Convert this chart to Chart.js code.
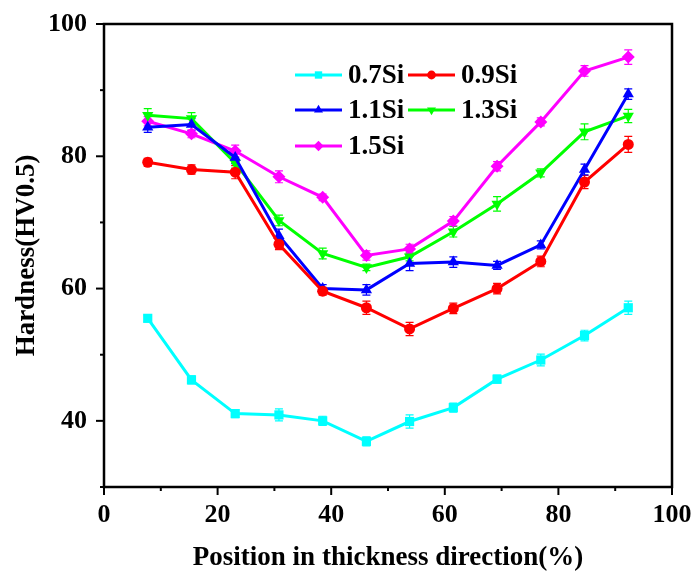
<!DOCTYPE html>
<html>
<head>
<meta charset="utf-8">
<script src="https://cdn.jsdelivr.net/npm/chart.js@4"></script>
<style>
  html, body { margin: 0; padding: 0; background: #fff; }
  #wrap { width: 694px; height: 574px; }
</style>
</head>
<body>
<div id="wrap"><canvas id="hardChart"></canvas></div>
<script>
const positions = [7.7, 15.4, 23.1, 30.8, 38.5, 46.2, 53.8, 61.5, 69.2, 76.9, 84.6, 92.3];

const si07 = [55.5, 46.2, 41.1, 40.9, 40.0, 36.9, 39.9, 42.0, 46.3, 49.2, 52.9, 57.1];
const si09 = [79.1, 78.0, 77.6, 66.7, 59.6, 57.1, 53.9, 57.0, 60.0, 64.1, 76.1, 81.8];
const si11 = [84.4, 84.8, 79.8, 68.0, 60.0, 59.8, 63.8, 64.0, 63.5, 66.6, 78.0, 89.4];
const si13 = [86.2, 85.7, 79.0, 70.3, 65.3, 63.2, 64.8, 68.6, 72.8, 77.5, 83.7, 86.1];
const si15 = [85.3, 83.4, 80.8, 76.9, 73.8, 65.0, 66.0, 70.2, 78.5, 85.2, 92.9, 95.0];

const err07 = [0.5, 0.6, 0.6, 0.9, 0.7, 0.7, 1.0, 0.7, 0.6, 0.9, 0.8, 1.0];
const err09 = [0.6, 0.7, 1.0, 0.8, 0.6, 1.0, 1.0, 0.8, 0.8, 0.8, 1.0, 1.2];
const err11 = [0.8, 0.9, 0.9, 1.0, 0.6, 0.8, 1.1, 0.8, 0.6, 0.6, 0.8, 0.8];
const err13 = [1.0, 0.9, 0.8, 0.8, 0.8, 0.5, 0.6, 0.8, 1.1, 0.6, 1.2, 1.0];
const err15 = [0.7, 0.6, 0.9, 0.9, 0.5, 0.7, 0.7, 0.7, 0.7, 0.6, 0.8, 1.1];

const seriesLabels = ['0.7Si', '0.9Si', '1.1Si', '1.3Si', '1.5Si'];
const xTicks = [0, 20, 40, 60, 80, 100];
const yTicks = [40, 60, 80, 100];

const FONT = '"Liberation Serif", "Times New Roman", serif';

function pts(vals) {
  return vals.map((v, i) => ({ x: positions[i], y: v }));
}

function series(label, vals, errs, color, style, radius, rot) {
  return {
    label: label,
    data: pts(vals),
    errors: errs,
    borderColor: color,
    backgroundColor: color,
    borderWidth: 3,
    pointStyle: style,
    pointRadius: radius,
    pointRotation: rot || 0,
    pointBorderWidth: 0,
    pointHoverRadius: radius,
    tension: 0,
    clip: false
  };
}

// error bars, frame, ticks and in-plot legend
const extras = {
  id: 'extras',
  beforeDatasetsDraw(chart) {
    const ctx = chart.ctx;
    const xs = chart.scales.x, ys = chart.scales.y;
    ctx.save();
    chart.data.datasets.forEach(ds => {
      ctx.strokeStyle = ds.borderColor;
      ctx.lineWidth = 1.2;
      ds.data.forEach((p, i) => {
        const e = ds.errors[i];
        const px = xs.getPixelForValue(p.x);
        const y1 = ys.getPixelForValue(p.y + e);
        const y2 = ys.getPixelForValue(p.y - e);
        ctx.beginPath();
        ctx.moveTo(px, y1); ctx.lineTo(px, y2);
        ctx.moveTo(px - 4, y1); ctx.lineTo(px + 4, y1);
        ctx.moveTo(px - 4, y2); ctx.lineTo(px + 4, y2);
        ctx.stroke();
      });
    });
    ctx.restore();
  },
  afterDraw(chart) {
    const ctx = chart.ctx;
    const a = chart.chartArea;
    const xs = chart.scales.x, ys = chart.scales.y;
    ctx.save();
    ctx.strokeStyle = '#000';
    ctx.lineWidth = 2.5;
    ctx.strokeRect(a.left, a.top, a.right - a.left, a.bottom - a.top);

    ctx.lineWidth = 2;
    xs.ticks.forEach(t => {
      const px = xs.getPixelForValue(t.value);
      const len = t.value % 20 === 0 ? 8 : 4;
      ctx.beginPath();
      ctx.moveTo(px, a.bottom); ctx.lineTo(px, a.bottom + len);
      ctx.stroke();
    });
    ys.ticks.forEach(t => {
      const py = ys.getPixelForValue(t.value);
      const len = t.value % 20 === 0 ? 8 : 4;
      ctx.beginPath();
      ctx.moveTo(a.left, py); ctx.lineTo(a.left - len, py);
      ctx.stroke();
    });

    // legend, Origin style, 3 rows inside the plot
    const rows = [[0, 1], [2, 3], [4]];
    const lx = 295, col2 = 408, rowY = [75, 110, 146], lineLen = 47;
    ctx.font = 'bold 27px ' + FONT;
    ctx.textBaseline = 'middle';
    rows.forEach((row, r) => {
      row.forEach((di, c) => {
        const ds = chart.data.datasets[di];
        const x0 = c === 0 ? lx : col2;
        const y = rowY[r];
        ctx.strokeStyle = ds.borderColor;
        ctx.lineWidth = 3;
        ctx.beginPath();
        ctx.moveTo(x0, y); ctx.lineTo(x0 + lineLen, y);
        ctx.stroke();
        ctx.fillStyle = ds.backgroundColor;
        Chart.helpers.drawPoint(ctx, {
          pointStyle: ds.pointStyle,
          rotation: ds.pointRotation,
          radius: ds.pointRadius * 0.8,
          borderWidth: 0
        }, x0 + lineLen / 2, y);
        ctx.fillStyle = '#000';
        ctx.fillText(ds.label, x0 + lineLen + 6, y + 1);
      });
    });
    ctx.restore();
  }
};

const hardChart = document.getElementById('hardChart');

new Chart(hardChart, {
  type: 'line',
  data: {
    datasets: [
      series(seriesLabels[0], si07, err07, '#00ffff', 'rect', 6.5),
      series(seriesLabels[1], si09, err09, '#ff0000', 'circle', 5.5),
      series(seriesLabels[2], si11, err11, '#0000ff', 'triangle', 6.5),
      series(seriesLabels[3], si13, err13, '#00ff00', 'triangle', 6.5, 180),
      series(seriesLabels[4], si15, err15, '#ff00ff', 'rectRot', 6.5)
    ]
  },
  options: {
    responsive: true,
    maintainAspectRatio: false,
    animation: false,
    layout: {
      padding: { top: 24, right: 22, left: 0, bottom: 0 }
    },
    scales: {
      x: {
        type: 'linear',
        min: 0,
        max: 100,
        afterFit: s => { s.height = 87; s.paddingLeft = 0; s.paddingRight = 0; },
        grid: { display: false },
        border: { display: false },
        ticks: {
          stepSize: 10,
          padding: 5,
          color: '#000',
          font: { family: FONT, size: 26, weight: 'bold' },
          callback: v => xTicks.includes(v) ? v : ''
        },
        title: {
          display: true,
          text: 'Position in thickness direction(%)',
          color: '#000',
          font: { family: FONT, size: 27, weight: 'bold' },
          padding: { top: 0, bottom: 0 }
        }
      },
      y: {
        min: 30,
        max: 100,
        afterFit: s => { s.width = 104; s.paddingTop = 0; s.paddingBottom = 0; },
        grid: { display: false },
        border: { display: false },
        ticks: {
          stepSize: 10,
          padding: 9,
          color: '#000',
          font: { family: FONT, size: 26, weight: 'bold' },
          callback: v => yTicks.includes(v) ? v : ''
        },
        title: {
          display: true,
          text: 'Hardness(HV0.5)',
          color: '#000',
          font: { family: FONT, size: 27, weight: 'bold' },
          padding: { top: 11, bottom: 0 }
        }
      }
    },
    plugins: {
      legend: { display: false },
      tooltip: { enabled: false }
    }
  },
  plugins: [extras]
});
</script>
</body>
</html>
